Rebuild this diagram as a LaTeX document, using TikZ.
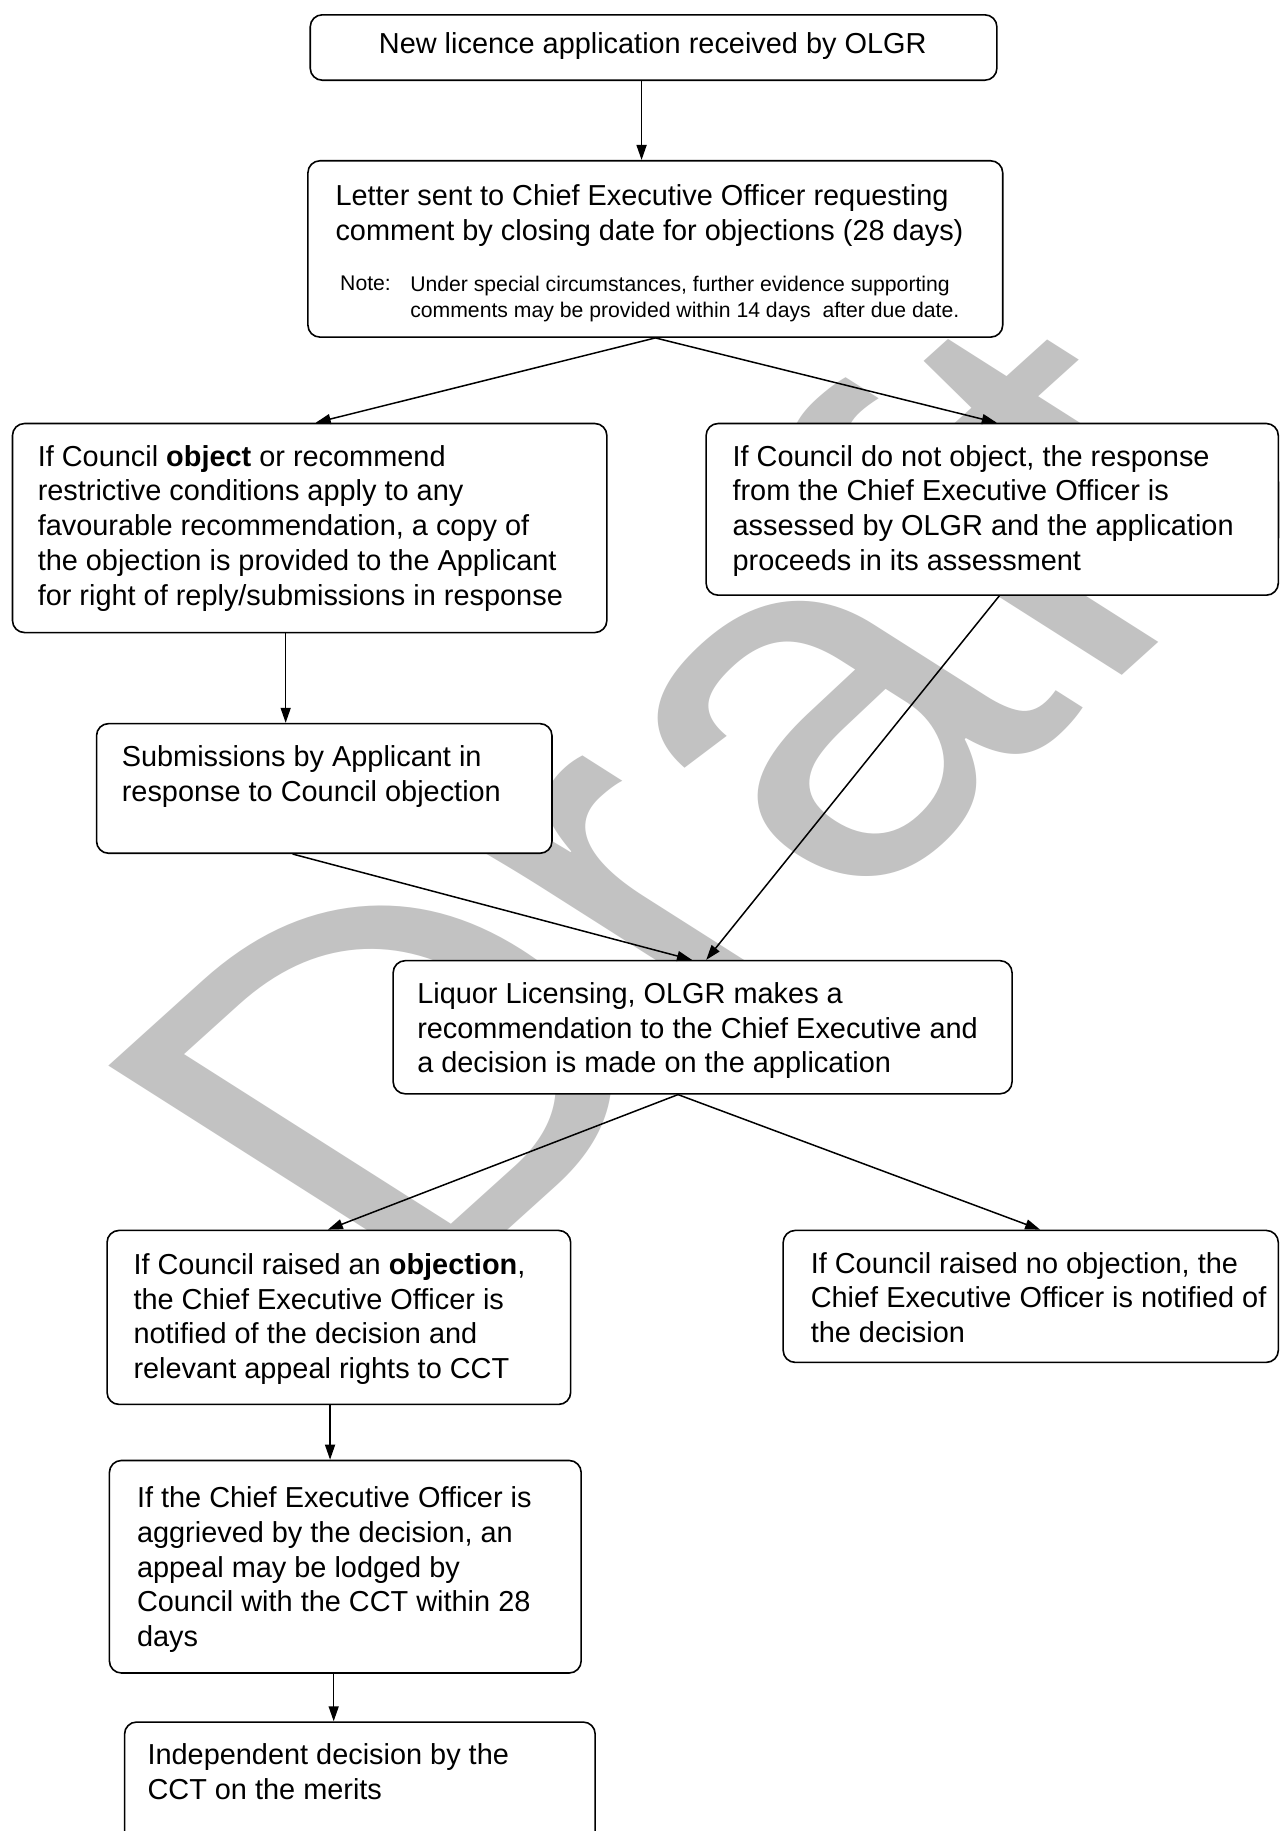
\documentclass[tikz,border=0pt]{standalone}
\usepackage{fontspec}
\setmainfont{Liberation Sans}
\usetikzlibrary{arrows.meta,calc}
\tikzset{
  flowbox/.style={draw, line width=0.8pt, rounded corners=6pt, fill=white, inner sep=0pt, anchor=north west},
  txt/.style={anchor=north west, inner sep=0pt, align=left, font=\fontsize{14.45pt}{17.35pt}\selectfont},
  notetxt/.style={anchor=north west, inner sep=0pt, align=left, font=\fontsize{10.6pt}{12.85pt}\selectfont},
  arr/.style={-{Triangle[length=7.5pt,width=5pt]}, line width=0.75pt},
  wm/.style={inner sep=0pt, text=black!24, font=\fontsize{245pt}{245pt}\selectfont, xscale=1.32, rotate=50}
}
\newcommand\flowbox[5]{\node[flowbox, minimum width={(#4-#2)*0.584pt}, minimum height={(#5-#3)*0.584pt}] (#1) at (#2,#3) {};}
\begin{document}
\begin{tikzpicture}[x=0.584pt,y=-0.584pt]
\useasboundingbox (0,0) rectangle (1096,1568);
\fill[white] (0,0) rectangle (1096,1568);
% watermark
\path (590,680) node[wm] (wm) {Draft};
% boxes
\flowbox{b1}{265}{12}{853}{68}
\flowbox{b2}{263}{137}{858}{288}
\flowbox{b3}{10}{362}{519}{541}
\flowbox{b4}{604}{362}{1094}{509}
\flowbox{b5}{82}{619}{472}{730}
\flowbox{b6}{336}{822}{866}{936}
\flowbox{b7}{91}{1053}{488}{1202}
\flowbox{b8}{670}{1053}{1094}{1166}
\flowbox{b9}{93}{1250}{497}{1432}
\flowbox{b10}{106}{1474}{509}{1600}
% texts
\node[txt, anchor=center] (t1) at (559,39) {New licence application received by OLGR};
\node[txt] (t2) at (287,158) {Letter sent to Chief Executive Officer requesting\\comment by closing date for objections (28 days)};
\node[notetxt] (n2a) at (291,236) {Note:};
\node[notetxt] (n2b) at (351,236) {Under special circumstances, further evidence supporting\\comments may be provided within 14 days\ \ after due date.};
\node[txt] (t3) at (32,381) {If Council \textbf{object} or recommend\\restrictive conditions apply to any\\favourable recommendation, a copy of\\the objection is provided to the Applicant\\for right of reply/submissions in response};
\node[txt] (t4) at (627,381) {If Council do not object, the response\\from the Chief Executive Officer is\\assessed by OLGR and the application\\proceeds in its assessment};
\node[txt] (t5) at (104,638) {Submissions by Applicant in\\response to Council objection};
\node[txt] (t6) at (357,841) {Liquor Licensing, OLGR makes a\\recommendation to the Chief Executive and\\a decision is made on the application};
\node[txt] (t7) at (114,1073) {If Council raised an \textbf{objection},\\the Chief Executive Officer is\\notified of the decision and\\relevant appeal rights to CCT};
\node[txt] (t8) at (694,1072) {If Council raised no objection, the\\Chief Executive Officer is notified of\\the decision};
\node[txt] (t9) at (117,1273) {If the Chief Executive Officer is\\aggrieved by the decision, an\\appeal may be lodged by\\Council with the CCT within 28\\days};
\node[txt] (t10) at (126,1493) {Independent decision by the\\CCT on the merits};
% arrows
\draw[arr] ([xshift=-6pt]b1.south) -- ([xshift=-6pt]b1.south |- b2.north);
\draw[arr] (b2.south) -- ([xshift=3pt]b3.north);
\draw[arr] (b2.south) -- ([xshift=2.3pt]b4.north);
\draw[arr] ([xshift=-12pt]b3.south) -- ([xshift=-12pt]b3.south |- b5.north);
\draw[arr] ([xshift=-15.8pt]b5.south) -- ([xshift=-5.3pt]b6.north);
\draw[arr] ([xshift=3.5pt]b4.south) -- ([xshift=1.8pt]b6.north);
\draw[arr] ([xshift=-12.3pt]b6.south) -- ([xshift=-5.5pt]b7.north);
\draw[arr] ([xshift=-12.3pt]b6.south) -- ([xshift=4.7pt]b8.north);
\draw[arr] ([xshift=-4.4pt]b7.south) -- ([xshift=-4.4pt]b7.south |- b9.north);
\draw[arr] ([xshift=-5.8pt]b9.south) -- ([xshift=-5.8pt]b9.south |- b10.north);
\end{tikzpicture}
\end{document}
